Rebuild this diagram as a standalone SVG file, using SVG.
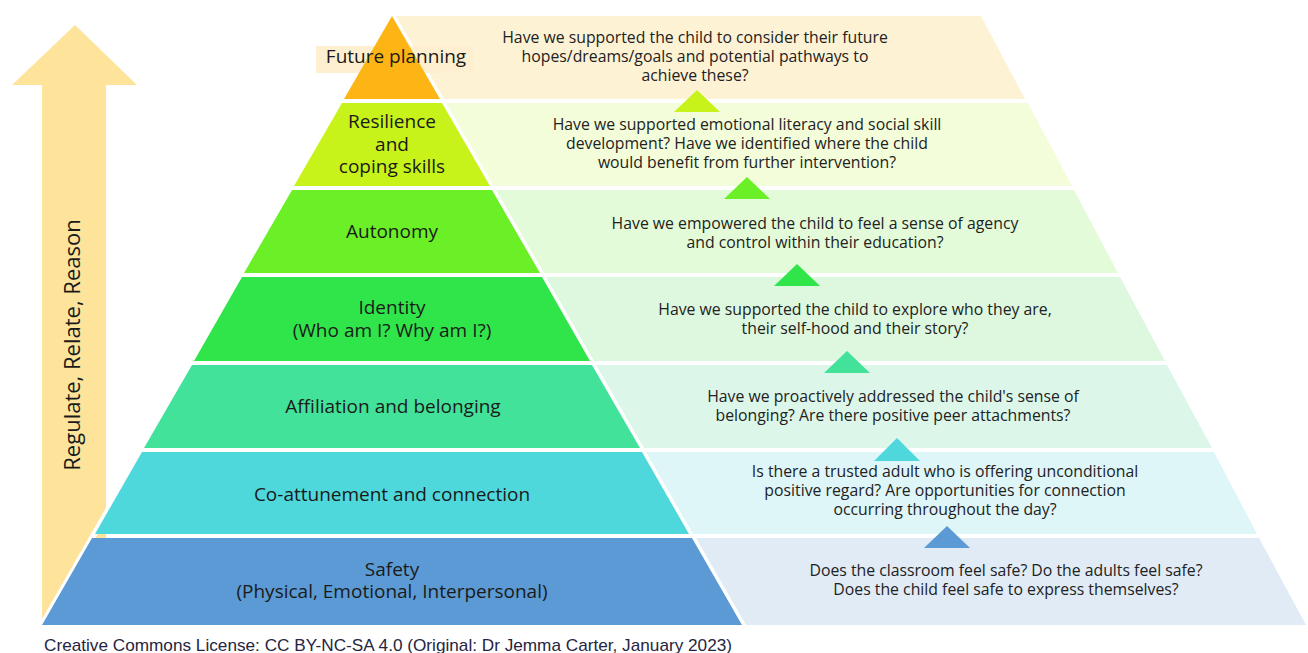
<svg xmlns="http://www.w3.org/2000/svg" width="1308" height="653" viewBox="0 0 1308 653">
<style>
.q{font-family:"Open Sans","Noto Sans",sans-serif;font-size:15.8px;fill:#222;text-anchor:middle}
.l{font-family:"Open Sans","Noto Sans",sans-serif;font-size:19px;fill:#1a1a1a;text-anchor:middle}
.f{font-family:"Liberation Sans",Arial,sans-serif;font-size:17px;fill:#252540}
</style>
<rect width="1308" height="653" fill="#fff"/>
<g id="arrow">
<polygon points="75,25 137,85 106,85 106,620 42,620 42,85 12,85" fill="#FDE49A"/>
<text class="l" style="font-size:22px" transform="translate(80,345) rotate(-90)">Regulate, Relate, Reason</text>
</g>
<line x1="392" y1="16" x2="42" y2="625" stroke="#fff" stroke-width="6"/>
<g id="questions">
<polygon points="396,16 981,16 1025,99 444,99" fill="#FEF2D5"/>
<polygon points="446,103 1028,103 1072,186 494,186" fill="#F4FDD9"/>
<polygon points="496,190 1074,190 1118,273 544,273" fill="#E4FBD9"/>
<polygon points="546,277 1120,277 1165,361 594,361" fill="#DDF8DE"/>
<polygon points="596,365 1167,365 1212,448 644,448" fill="#DCF7EA"/>
<polygon points="646,452 1214,452 1257,534 693,534" fill="#DEF6F8"/>
<polygon points="696,538 1259,538 1306,625 746,625" fill="#E0EBF6"/>
</g>
<g id="connectors">
<polygon points="697,90 720,112 674,112" fill="#C7F31B"/>
<polygon points="747,177 770,199 724,199" fill="#6BEF27"/>
<polygon points="797,264 820,286 774,286" fill="#30E54A"/>
<polygon points="847,351 870,373 824,373" fill="#42E29B"/>
<polygon points="897,438 920,461 874,461" fill="#4ED8DB"/>
<polygon points="947,526 970,548 924,548" fill="#5B9AD4"/>
</g>
<g id="future-planning">
<rect x="316" y="46" width="158" height="27" fill="#FDEFCF"/>
<polygon points="392,16 440,99 344,99" fill="#FCB514"/>
<text class="l" x="396" y="63">Future planning</text>
<text class="q" y="43"><tspan x="695">Have we supported the child to consider their future</tspan><tspan x="695" dy="19">hopes/dreams/goals and potential pathways to</tspan><tspan x="695" dy="19">achieve these?</tspan></text>
</g>
<g id="resilience">
<polygon points="342,103 442,103 490,186 294,186" fill="#C7F31B"/>
<text class="l" y="128"><tspan x="392">Resilience</tspan><tspan x="392" dy="23">and</tspan><tspan x="392" dy="22">coping skills</tspan></text>
<text class="q" y="130"><tspan x="747">Have we supported emotional literacy and social skill</tspan><tspan x="747" dy="19">development? Have we identified where the child</tspan><tspan x="747" dy="19">would benefit from further intervention?</tspan></text>
</g>
<g id="autonomy">
<polygon points="292,190 492,190 540,273 244,273" fill="#6BEF27"/>
<text class="l" x="392" y="238">Autonomy</text>
<text class="q" y="229"><tspan x="815">Have we empowered the child to feel a sense of agency</tspan><tspan x="815" dy="19">and control within their education?</tspan></text>
</g>
<g id="identity">
<polygon points="242,277 542,277 590,361 194,361" fill="#30E54A"/>
<text class="l" y="314"><tspan x="392">Identity</tspan><tspan x="392" dy="23">(Who am I? Why am I?)</tspan></text>
<text class="q" y="315"><tspan x="855">Have we supported the child to explore who they are,</tspan><tspan x="855" dy="19">their self-hood and their story?</tspan></text>
</g>
<g id="affiliation">
<polygon points="192,365 592,365 640,448 144,448" fill="#42E29B"/>
<text class="l" x="393" y="413">Affiliation and belonging</text>
<text class="q" y="402"><tspan x="893">Have we proactively addressed the child's sense of</tspan><tspan x="893" dy="19">belonging? Are there positive peer attachments?</tspan></text>
</g>
<g id="co-attunement">
<polygon points="142,452 642,452 689,534 95,534" fill="#4ED8DB"/>
<text class="l" x="392" y="501">Co-attunement and connection</text>
<text class="q" y="477"><tspan x="945">Is there a trusted adult who is offering unconditional</tspan><tspan x="945" dy="19">positive regard? Are opportunities for connection</tspan><tspan x="945" dy="19">occurring throughout the day?</tspan></text>
</g>
<g id="safety">
<polygon points="92,538 692,538 742,625 42,625" fill="#5B9AD4"/>
<text class="l" y="576"><tspan x="392">Safety</tspan><tspan x="392" dy="22">(Physical, Emotional, Interpersonal)</tspan></text>
<text class="q" y="576"><tspan x="1006">Does the classroom feel safe? Do the adults feel safe?</tspan><tspan x="1006" dy="19">Does the child feel safe to express themselves?</tspan></text>
</g>
<text class="f" x="44" y="651" textLength="688" lengthAdjust="spacingAndGlyphs">Creative Commons License: CC BY-NC-SA 4.0 (Original: Dr Jemma Carter, January 2023)</text>
</svg>
